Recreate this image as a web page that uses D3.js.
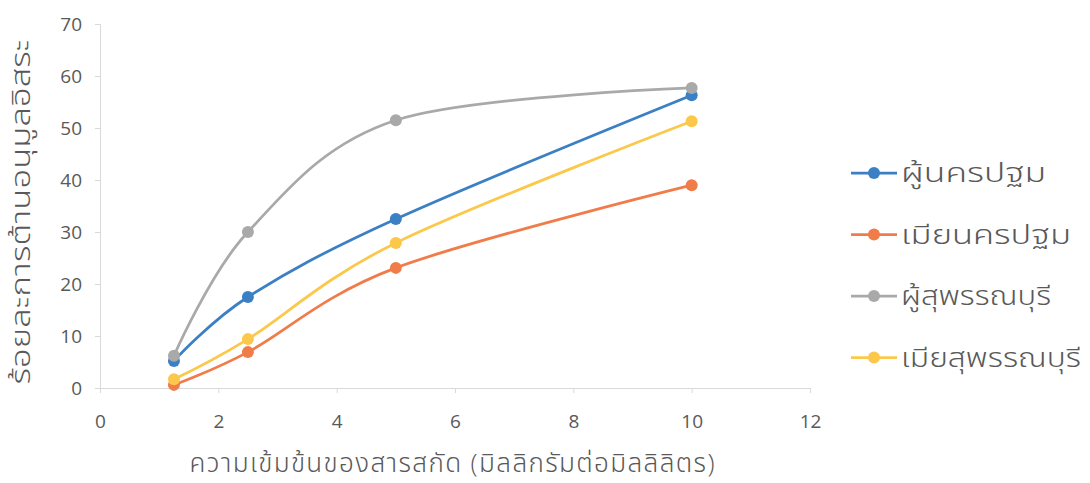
<!DOCTYPE html>
<html>
<head>
<meta charset="utf-8">
<script src="https://cdn.jsdelivr.net/npm/d3@7"></script>
<style>
  body { margin: 0; background: #fff; }
  text { font-family: "Open Sans", "Noto Sans", "Noto Sans Thai", "DejaVu Sans", sans-serif; }
</style>
</head>
<body>
<svg id="chart" width="1090" height="483"></svg>
<script>
// concentration (mg/ml)
const concentrations = [1.25, 2.5, 5, 10];

const seriesNames = ['ผู้นครปฐม', 'เมียนครปฐม', 'ผู้สุพรรณบุรี', 'เมียสุพรรณบุรี'];
const maleNakhon = [5.2, 17.5, 32.5, 56.3];
const femaleNakhon = [0.6, 6.9, 23.1, 39.0];
const maleSuphan = [6.2, 30.0, 51.5, 57.7];
const femaleSuphan = [1.7, 9.4, 27.9, 51.3];
const seriesColors = ['#3b7fc4', '#f07c4a', '#a9a9a9', '#fcc84b'];

const xTicks = [0, 2, 4, 6, 8, 10, 12];
const yTicks = [0, 10, 20, 30, 40, 50, 60, 70];

const xTitle = 'ความเข้มข้นของสารสกัด (มิลลิกรัมต่อมิลลิลิตร)';
const yTitle = 'ร้อยละการต้านอนุมูลอิสระ';

const svg = d3.select('#chart');

const MARGIN_LEFT = 100;
const PLOT_RIGHT = 810;
const PLOT_TOP = 24;
const PLOT_BOTTOM = 388;
const AXIS_COLOR = '#d9d9d9';
const TEXT_COLOR = '#595959';

const x = d3.scaleLinear().domain([0, 12]).range([MARGIN_LEFT, PLOT_RIGHT]);
const y = d3.scaleLinear().domain([0, 70]).range([PLOT_BOTTOM, PLOT_TOP]);

const series = [maleNakhon, femaleNakhon, maleSuphan, femaleSuphan].map((vals, i) => ({
    name: seriesNames[i],
    color: seriesColors[i],
    points: vals.map((v, j) => [concentrations[j], v])
}));

// y axis
const yAxis = svg.append('g')
    .attr('transform', `translate(${MARGIN_LEFT},0)`)
    .call(d3.axisLeft(y).tickValues(yTicks).tickSize(5).tickPadding(13));
yAxis.select('.domain').attr('stroke', AXIS_COLOR);
yAxis.selectAll('.tick line').attr('stroke', AXIS_COLOR);
yAxis.selectAll('.tick text')
    .attr('fill', TEXT_COLOR)
    .attr('font-size', 19);

// x axis
const xAxis = svg.append('g')
    .attr('transform', `translate(0,${PLOT_BOTTOM})`)
    .call(d3.axisBottom(x).tickValues(xTicks).tickSize(5).tickPadding(22));
xAxis.select('.domain').attr('stroke', AXIS_COLOR);
xAxis.selectAll('.tick line').attr('stroke', AXIS_COLOR);
xAxis.selectAll('.tick text')
    .attr('fill', TEXT_COLOR)
    .attr('font-size', 19);

// axis titles
svg.append('text')
    .text(xTitle)
    .attr('x', 452)
    .attr('y', 472)
    .attr('text-anchor', 'middle')
    .attr('font-size', 26)
    .attr('font-weight', 300)
    .attr('textLength', 525)
    .attr('lengthAdjust', 'spacing')
    .attr('fill', TEXT_COLOR);

svg.append('text')
    .text(yTitle)
    .attr('transform', 'translate(30,212) rotate(-90)')
    .attr('text-anchor', 'middle')
    .attr('font-size', 27)
    .attr('font-weight', 300)
    .attr('textLength', 345)
    .attr('lengthAdjust', 'spacingAndGlyphs')
    .attr('fill', TEXT_COLOR);

// lines
const line = d3.line()
    .x(d => x(d[0]))
    .y(d => y(d[1]))
    .curve(d3.curveCardinal.tension(0));

series.forEach(s => {
    svg.append('path')
        .datum(s.points)
        .attr('d', line)
        .attr('fill', 'none')
        .attr('stroke', s.color)
        .attr('stroke-width', 2.75);
});

series.forEach(s => {
    svg.selectAll(null)
        .data(s.points)
        .enter()
        .append('circle')
        .attr('cx', d => x(d[0]))
        .attr('cy', d => y(d[1]))
        .attr('r', 6)
        .attr('fill', s.color);
});

// legend
const LEGEND_X = 851;
const LEGEND_Y = 173;
const LEGEND_STEP = 61.5;
const legendWidths = [145, 170, 150, 180];
series.forEach((s, i) => {
    const ly = LEGEND_Y + i * LEGEND_STEP;
    svg.append('line')
        .attr('x1', LEGEND_X)
        .attr('x2', LEGEND_X + 46)
        .attr('y1', ly)
        .attr('y2', ly)
        .attr('stroke', s.color)
        .attr('stroke-width', 2.75);
    svg.append('circle')
        .attr('cx', LEGEND_X + 23)
        .attr('cy', ly)
        .attr('r', 6)
        .attr('fill', s.color);
    svg.append('text')
        .text(s.name)
        .attr('x', LEGEND_X + 50)
        .attr('y', ly)
        .attr('dy', '0.35em')
        .attr('font-size', 27)
        .attr('font-weight', 300)
        .attr('textLength', legendWidths[i])
        .attr('lengthAdjust', 'spacingAndGlyphs')
        .attr('fill', TEXT_COLOR);
});
</script>
</body>
</html>
